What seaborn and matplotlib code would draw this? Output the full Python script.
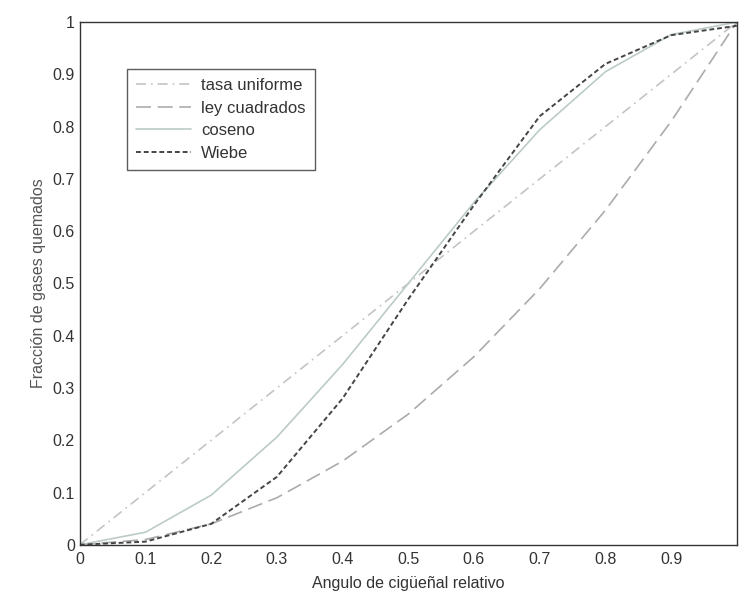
import matplotlib
matplotlib.use("Agg")
import matplotlib.pyplot as plt
import seaborn as sns
import pandas as pd

x_vals = [0.0, 0.1, 0.2, 0.3, 0.4, 0.5, 0.6, 0.7, 0.8, 0.9, 1.0]
tasa_uniforme = [0.0, 0.1, 0.2, 0.3, 0.4, 0.5, 0.6, 0.7, 0.8, 0.9, 1.0]
ley_cuadrados = [0.0, 0.01, 0.04, 0.09, 0.16, 0.25, 0.36, 0.49, 0.64, 0.81, 1.0]
coseno = [0.0, 0.024, 0.095, 0.206, 0.345, 0.5, 0.655, 0.794, 0.905, 0.976, 1.0]
wiebe = [0.0, 0.006, 0.04, 0.13, 0.28, 0.47, 0.65, 0.82, 0.92, 0.975, 0.993]
series_names = ["tasa uniforme", "ley cuadrados", "coseno", "Wiebe"]
x_ticks = [0.0, 0.1, 0.2, 0.3, 0.4, 0.5, 0.6, 0.7, 0.8, 0.9, 1.0]
x_tick_labels = ["0", "0.1", "0.2", "0.3", "0.4", "0.5", "0.6", "0.7", "0.8", "0.9", ""]
y_ticks = [0.0, 0.1, 0.2, 0.3, 0.4, 0.5, 0.6, 0.7, 0.8, 0.9, 1.0]
y_tick_labels = ["0", "0.1", "0.2", "0.3", "0.4", "0.5", "0.6", "0.7", "0.8", "0.9", "1"]

sns.set_style("white")
plt.rcParams["font.family"] = ["Liberation Sans", "DejaVu Sans"]

df = pd.DataFrame({
    "x": x_vals * 4,
    "y": tasa_uniforme + ley_cuadrados + coseno + wiebe,
    "serie": sum([[n] * len(x_vals) for n in series_names], []),
})

fig = plt.figure(figsize=(7.39, 5.98), dpi=100)
ax = fig.add_axes([0.108, 0.089, 0.889, 0.874])

styles = {
    "tasa uniforme": dict(color="#c4c4c4", dashes=(6, 3, 1, 3), lw=1.2),
    "ley cuadrados": dict(color="#ababab", dashes=(9, 4), lw=1.2),
    "coseno": dict(color="#bccbc6", dashes=(), lw=1.2),
    "Wiebe": dict(color="#454545", dashes=(2.5, 1.5), lw=1.4),
}
for name in series_names:
    st = styles[name]
    sub = df[df["serie"] == name]
    sns.lineplot(data=sub, x="x", y="y", ax=ax, color=st["color"],
                 linewidth=st["lw"], label=name, estimator=None)
    line = ax.get_lines()[-1]
    if st["dashes"]:
        line.set_dashes(st["dashes"])

ax.set_xlim(0, 1)
ax.set_ylim(0, 1)
ax.set_xticks(x_ticks)
ax.set_xticklabels(x_tick_labels)
ax.set_yticks(y_ticks)
ax.set_yticklabels(y_tick_labels)
ax.tick_params(direction="in", length=4, labelsize=11.5, colors="#333333",
               top=False, right=False)
ax.tick_params(axis="x", pad=5)
for s in ax.spines.values():
    s.set_color("#333333")
    s.set_linewidth(1.0)
ax.set_xlabel("Angulo de cigüeñal relativo", fontsize=11.5, color="#333333", labelpad=7)
ax.set_ylabel("Fracción de gases quemados", fontsize=11.5, color="#555555", labelpad=5)

leg = ax.legend(loc="upper left", bbox_to_anchor=(0.072, 0.91), frameon=True,
                fancybox=False, edgecolor="#333333", fontsize=12,
                handlelength=3.3, handletextpad=0.6, borderpad=0.55,
                labelspacing=0.45, borderaxespad=0)
leg.get_frame().set_linewidth(1.0)
for t in leg.get_texts():
    t.set_color("#333333")

fig.savefig("out.png", dpi=100)
